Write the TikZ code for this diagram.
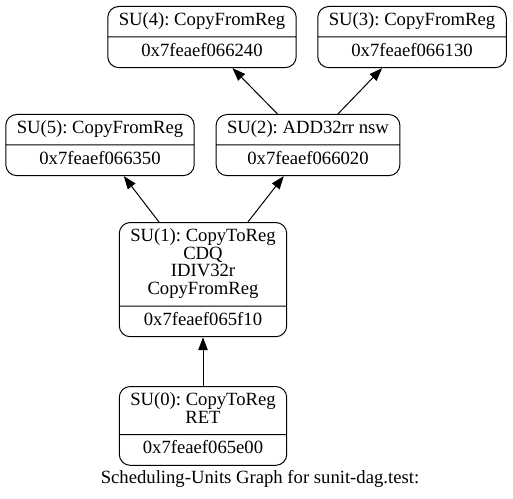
\documentclass[tikz,border=0pt]{standalone}
\usepackage{fontspec}
\setmainfont{Liberation Serif}
\usepackage{tikz}
\usetikzlibrary{arrows.meta,positioning,shapes.multipart}
\frenchspacing
\tikzset{
  su/.style={draw, rectangle split, rectangle split parts=2, rounded corners=11bp,
    align=center, inner xsep=11bp, inner ysep=5.6bp, line width=1bp,
    font=\fontsize{18.67bp}{17.7bp}\selectfont},
  caption/.style={font=\fontsize{18.67bp}{17.7bp}\selectfont, inner sep=0pt},
  dep/.style={-{Triangle[length=13bp,width=9.5bp]}, line width=1bp}
}
\begin{document}
\begin{tikzpicture}[x=1bp, y=-1bp]
\useasboundingbox (0,0) rectangle (513,499);
\node[su, anchor=north] (su4) at (202,6) {\strut SU(4): CopyFromReg \nodepart{two} \strut 0x7feaef066240};
\node[su, anchor=north] (su3) at (412,6) {\strut SU(3): CopyFromReg \nodepart{two} \strut 0x7feaef066130};
\node[su, anchor=north] (su5) at (100,114) {\strut SU(5): CopyFromReg \nodepart{two} \strut 0x7feaef066350};
\node[su, anchor=north] (su2) at (308,114) {\strut SU(2): ADD32rr nsw \nodepart{two} \strut 0x7feaef066020};
\node[su, anchor=north] (su1) at (203,222) {\strut SU(1): CopyToReg\\\strut CDQ\\\strut IDIV32r\\\strut CopyFromReg \nodepart{two} \strut 0x7feaef065f10};
\node[su, anchor=north] (su0) at (203,386) {\strut SU(0): CopyToReg\\\strut RET \nodepart{two} \strut 0x7feaef065e00};
\node[caption, anchor=base] (title) at (260,483) {Scheduling-Units Graph for sunit-dag.test:};
\draw[dep] (su0) -- (su1);
\draw[dep] (su1) -- (su5);
\draw[dep] (su1) -- (su2);
\draw[dep] (su2) -- (su4);
\draw[dep] (su2) -- (su3);
\end{tikzpicture}
\end{document}
